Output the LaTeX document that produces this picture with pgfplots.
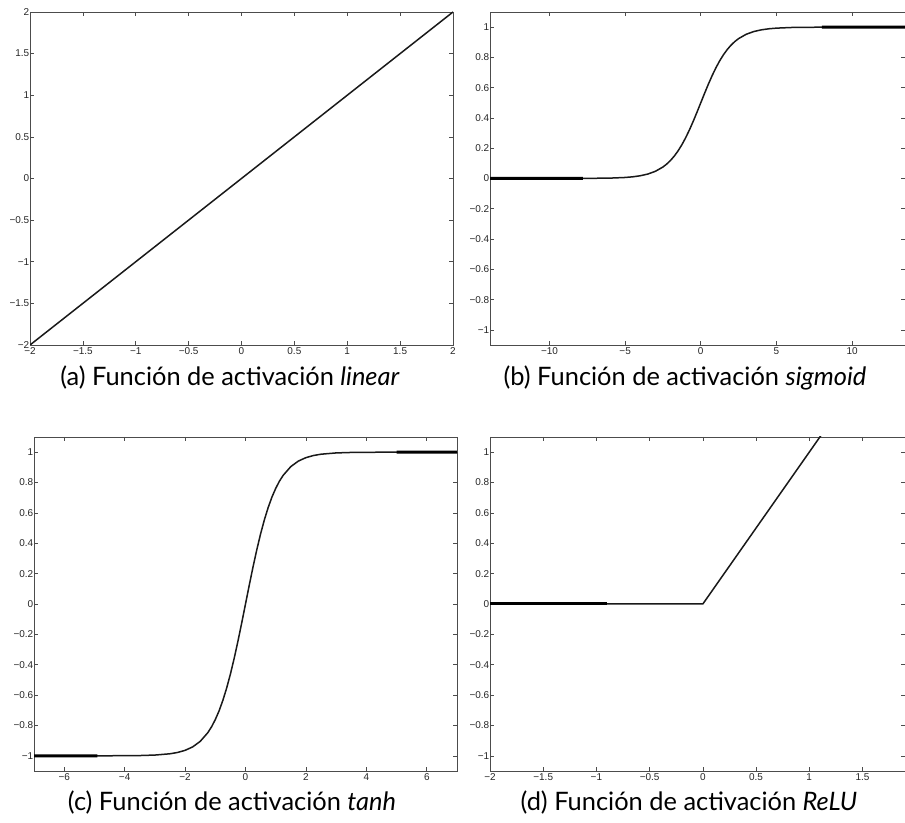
\documentclass[border=0pt]{standalone}
\usepackage{fontspec}
\setmainfont{Lato}
\newfontfamily\tickfont{Liberation Sans}
\usepackage{pgfplots}
\pgfplotsset{compat=1.18}
\begin{document}
\begin{tikzpicture}[x=1bp,y=1bp]
\useasboundingbox (0,0) rectangle (905,823);
\pgfplotsset{
  every axis/.append style={
    scale only axis,
    anchor=south west,
    axis line style={draw=black!70, line width=0.8bp},
    tick style={draw=black!70, line width=0.6bp},
    major tick length=4bp,
    tick align=inside,
    ticklabel style={font=\tickfont\fontsize{10}{12}\selectfont, text=black!85},
    yticklabel style={inner sep=0.6bp},
    xticklabel style={inner sep=2bp},
  },
  curve/.style={black!90, line width=1.5bp},
  thickcurve/.style={black, line width=3bp},
  ylabs11/.style={ymin=-1.1, ymax=1.1,
    ytick={-1,-0.8,-0.6,-0.4,-0.2,0,0.2,0.4,0.6,0.8,1},
    yticklabels={−1,−0.8,−0.6,−0.4,−0.2,0,0.2,0.4,0.6,0.8,1}},
}
% (a) linear
\begin{axis}[at={(30bp,478bp)}, width=423bp, height=333bp,
  xmin=-2, xmax=2, ymin=-2, ymax=2,
  xtick={-2,-1.5,-1,-0.5,0,0.5,1,1.5,2},
  xticklabels={−2,−1.5,−1,−0.5,0,0.5,1,1.5,2},
  ytick={-2,-1.5,-1,-0.5,0,0.5,1,1.5,2},
  yticklabels={−2,−1.5,−1,−0.5,0,0.5,1,1.5,2}]
\addplot[curve] coordinates {(-2,-2) (2,2)};
\end{axis}
% (b) sigmoid
\begin{axis}[at={(490bp,478bp)}, width=415bp, height=333bp,
  xmin=-13.93, xmax=13.5, ylabs11,
  xtick={-10,-5,0,5,10},
  xticklabels={−10,−5,0,5,10}]
\addplot[curve] coordinates {
(-14,0.0000008) (-8,0.000335) (-6,0.00247) (-5,0.00669) (-4.5,0.01099) (-4,0.01799)
(-3.5,0.02931) (-3,0.04743) (-2.5,0.07586) (-2.25,0.09535) (-2,0.11920)
(-1.75,0.14805) (-1.5,0.18243) (-1.25,0.22270) (-1,0.26894) (-0.75,0.32082)
(-0.5,0.37754) (-0.25,0.43782) (0,0.5) (0.25,0.56218) (0.5,0.62246)
(0.75,0.67918) (1,0.73106) (1.25,0.77730) (1.5,0.81757) (1.75,0.85195)
(2,0.88080) (2.25,0.90465) (2.5,0.92414) (3,0.95257) (3.5,0.97069)
(4,0.98201) (4.5,0.98901) (5,0.99331) (6,0.99753) (8,0.999665) (14,0.9999992)};
\addplot[thickcurve] coordinates {(-14,0.0000008) (-7.8,0.0004)};
\addplot[thickcurve] coordinates {(8,0.999665) (14,0.9999992)};
\end{axis}
% (c) tanh
\begin{axis}[at={(34bp,52bp)}, width=423bp, height=334bp,
  xmin=-7, xmax=7, ylabs11,
  xtick={-6,-4,-2,0,2,4,6},
  xticklabels={−6,−4,−2,0,2,4,6}]
\addplot[curve] coordinates {
(-7,-0.999998) (-5,-0.99991) (-4,-0.99933) (-3.5,-0.99818) (-3,-0.99505)
(-2.5,-0.98661) (-2.25,-0.97803) (-2,-0.96403) (-1.75,-0.94138) (-1.5,-0.90515)
(-1.25,-0.84828) (-1.125,-0.80950) (-1,-0.76159) (-0.875,-0.70419) (-0.75,-0.63515)
(-0.625,-0.55459) (-0.5,-0.46212) (-0.375,-0.35835) (-0.25,-0.24492) (-0.125,-0.12435)
(0,0) (0.125,0.12435) (0.25,0.24492) (0.375,0.35835) (0.5,0.46212) (0.625,0.55459)
(0.75,0.63515) (0.875,0.70419) (1,0.76159) (1.125,0.80950) (1.25,0.84828)
(1.5,0.90515) (1.75,0.94138) (2,0.96403) (2.25,0.97803) (2.5,0.98661)
(3,0.99505) (3.5,0.99818) (4,0.99933) (5,0.99991) (7,0.999998)};
\addplot[thickcurve] coordinates {(-7,-0.999998) (-4.9,-0.99989)};
\addplot[thickcurve] coordinates {(5,0.99991) (7,0.999998)};
\end{axis}
% (d) ReLU
\begin{axis}[at={(490bp,52bp)}, width=415bp, height=334bp,
  xmin=-2, xmax=1.9, ylabs11,
  xtick={-2,-1.5,-1,-0.5,0,0.5,1,1.5},
  xticklabels={−2,−1.5,−1,−0.5,0,0.5,1,1.5}]
\addplot[curve] coordinates {(-2,0) (0,0) (1.2,1.2)};
\addplot[thickcurve] coordinates {(-2,0) (-0.9,0)};
\end{axis}
\begin{scope}[every node/.style={anchor=base, font=\fontsize{25.5}{30}\selectfont}]
\node at (230,437) {(a) Función de activación \textit{linear}};
\node at (685,437) {(b) Función de activación \textit{sigmoid}};
\node at (232,12) {(c) Función de activación \textit{tanh}};
\node at (689,12) {(d) Función de activación \textit{ReLU}};
\end{scope}
\end{tikzpicture}
\end{document}
